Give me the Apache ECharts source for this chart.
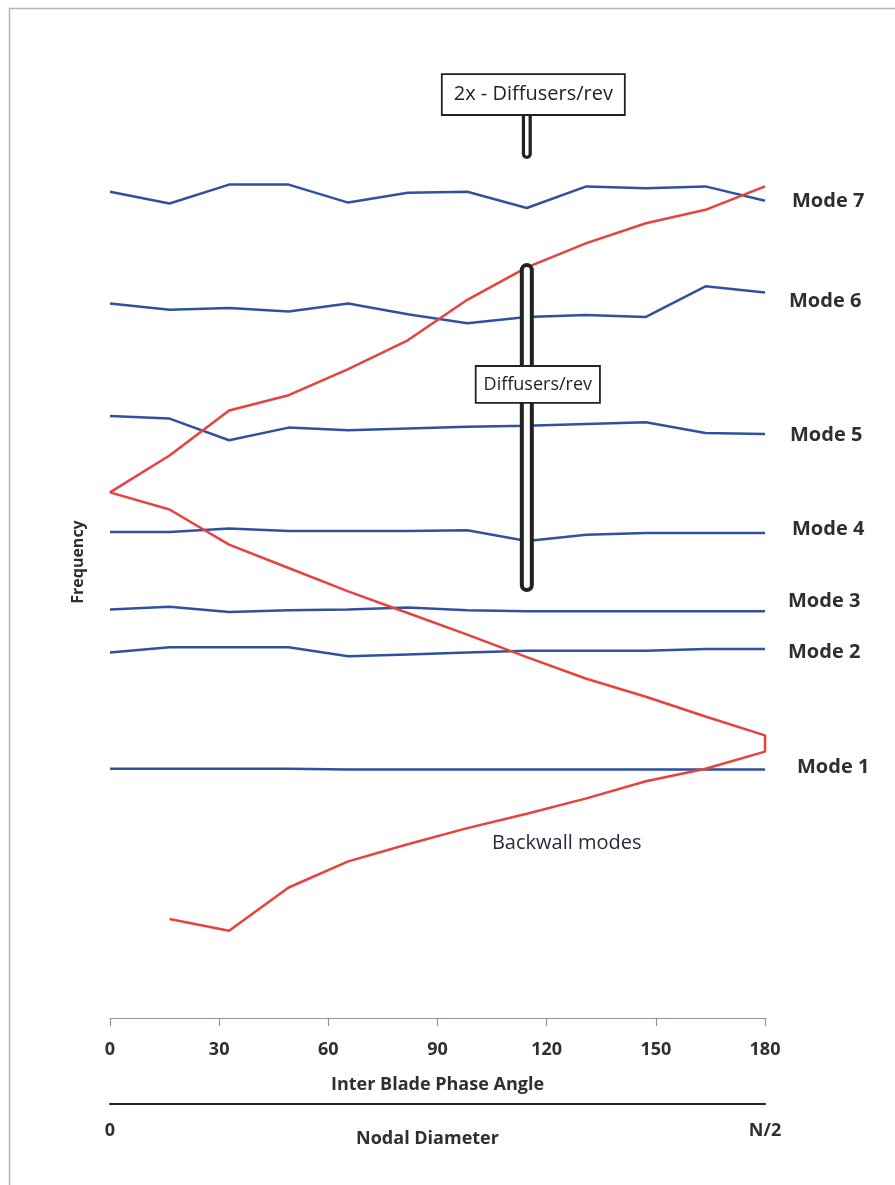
<!DOCTYPE html>
<html>
<head>
<meta charset="utf-8">
<script src="https://cdn.jsdelivr.net/npm/echarts@6/dist/echarts.min.js"></script>
<style>
html,body{margin:0;padding:0;background:#fff;}
#chart{width:895px;height:1185px;}
</style>
</head>
<body>
<div id="chart"></div>
<script>
// Nodal diameter index (0 .. N/2 = 11) and phase-angle ticks
const nodalDiameters = [0, 1, 2, 3, 4, 5, 6, 7, 8, 9, 10, 11];
const phaseTicks = [0, 30, 60, 90, 120, 150, 180];
const modeNames = ['Mode 1', 'Mode 2', 'Mode 3', 'Mode 4', 'Mode 5', 'Mode 6', 'Mode 7'];

// Blade mode frequencies (arbitrary units) at each nodal diameter
const mode1 = [27.7, 27.7, 27.7, 27.7, 27.6, 27.6, 27.6, 27.6, 27.6, 27.6, 27.6, 27.6];
const mode2 = [40.6, 41.2, 41.2, 41.2, 40.2, 40.4, 40.6, 40.8, 40.8, 40.8, 41.0, 41.0];
const mode3 = [45.4, 45.7, 45.1, 45.3, 45.4, 45.6, 45.3, 45.2, 45.2, 45.2, 45.2, 45.2];
const mode4 = [54.0, 54.0, 54.4, 54.1, 54.1, 54.1, 54.2, 53.0, 53.7, 53.9, 53.9, 53.9];
const mode5 = [66.9, 66.6, 64.2, 65.6, 65.3, 65.5, 65.7, 65.8, 66.0, 66.2, 65.0, 64.9];
const mode6 = [79.4, 78.7, 78.9, 78.5, 79.4, 78.2, 77.2, 77.9, 78.1, 77.9, 81.3, 80.6];
const mode7 = [91.8, 90.5, 92.6, 92.6, 90.6, 91.7, 91.8, 90.0, 92.4, 92.2, 92.4, 90.8];

// Backwall modes, in path order (nodal diameter, frequency)
const backwallND = [1, 2, 3, 4, 5, 6, 7, 8, 9, 10, 11,
                    11, 10, 9, 8, 7, 6, 5, 4, 3, 2, 1, 0,
                    1, 2, 3, 4, 5, 6, 7, 8, 9, 10, 11];
const backwallFreq = [11.0, 9.7, 14.5, 17.4, 19.3, 21.1, 22.7, 24.4, 26.3, 27.7, 29.6,
                      31.4, 33.5, 35.7, 37.7, 40.1, 42.6, 45.0, 47.4, 50.0, 52.6, 56.5, 58.4,
                      62.5, 67.5, 69.2, 72.1, 75.3, 79.8, 83.4, 86.1, 88.3, 89.8, 92.4];

// Excitation markers (nodal diameter, frequency span)
const diffuserND = 7;
const diffuserSpan = [48.1, 83.1];
const diffuser2xSpan = [96.0, 100.5];
const diffuserLabelFreq = 70.4;
const diffuser2xLabelFreq = 102.6;

const FONT = 'Open Sans';
const BLUE = '#3151a0';
const RED = '#e8413e';
const TXT = '#2f2f2f';

const modes = [mode1, mode2, mode3, mode4, mode5, mode6, mode7];
const labelOffsets = [[32, -2], [23, 3], [23, -10], [27, -4], [25, 1], [24, 9], [27, 0]];

const series = [];
modes.forEach((m, i) => {
  series.push({
    name: modeNames[i],
    type: 'line',
    xAxisIndex: 1,
    data: nodalDiameters.map((nd, j) => [nd, m[j]]),
    symbol: 'none',
    lineStyle: {color: BLUE, width: 2.5},
    endLabel: {
      show: true, formatter: '{a}', distance: 0, offset: labelOffsets[i],
      fontFamily: FONT, fontWeight: 'bold', fontSize: 20, color: TXT
    },
    z: 2
  });
});

series.push({
  name: 'Backwall',
  type: 'line',
  xAxisIndex: 1,
  data: backwallND.map((nd, j) => [nd, backwallFreq[j]]),
  symbol: 'none',
  lineStyle: {color: RED, width: 2.5},
  z: 3,
  markPoint: {
    symbol: 'circle', symbolSize: 0,
    itemStyle: {opacity: 1},
    label: {show: true, position: 'inside', formatter: 'Backwall modes',
      fontFamily: FONT, fontSize: 20, color: '#262b3a'},
    data: [{coord: [7.67, 19.4]}]
  }
});

function capsule(span, outer, inner) {
  const d = span.map(v => [diffuserND, v]);
  return [
    {type: 'line', xAxisIndex: 1, data: d, symbol: 'none', clip: false, z: 5,
     lineStyle: {color: '#222', width: outer, cap: 'round'}},
    {type: 'line', xAxisIndex: 1, data: d, symbol: 'none', clip: false, z: 6,
     lineStyle: {color: '#fff', width: inner, cap: 'round'}}
  ];
}
series.push(...capsule(diffuserSpan, 14, 6));
series.push(...capsule(diffuser2xSpan, 10, 3.5));

function boxLabel(freq, text, size, pad, dx) {
  return {
    type: 'scatter', xAxisIndex: 1, symbolSize: 0, z: 10, clip: false,
    itemStyle: {opacity: 1},
    data: [[diffuserND, freq]],
    label: {
      show: true, position: 'inside', formatter: text, offset: [dx, 0],
      fontFamily: FONT, fontSize: size, color: '#222',
      backgroundColor: '#fff', borderColor: '#222', borderWidth: 1.8,
      padding: pad, opacity: 1
    }
  };
}
series.push(boxLabel(diffuserLabelFreq, 'Diffusers/rev', 18, [9, 7, 8, 7], 11));
series.push(boxLabel(diffuser2xLabelFreq, '2x - Diffusers/rev', 20, [10, 11, 9, 11], 6.5));

const chart = echarts.init(document.getElementById('chart'));
chart.setOption({
  animation: false,
  backgroundColor: '#fff',
  grid: {left: 110, right: 130, top: 28, bottom: 167, containLabel: false},
  xAxis: [
    {
      type: 'value', min: phaseTicks[0], max: phaseTicks[phaseTicks.length - 1], interval: 30,
      position: 'bottom',
      name: 'Inter Blade Phase Angle', nameLocation: 'middle', nameGap: 58, nameMoveOverlap: false,
      nameTextStyle: {fontFamily: FONT, fontWeight: 'bold', fontSize: 18, color: TXT},
      axisLine: {show: true, lineStyle: {color: '#8a95a8', width: 1.2}},
      axisTick: {show: true, inside: false, length: 8, lineStyle: {color: '#8a95a8', width: 1.2}},
      axisLabel: {margin: 23, fontFamily: FONT, fontWeight: 'bold', fontSize: 18, color: TXT},
      splitLine: {show: false}
    },
    {
      type: 'value', min: 0, max: 11, interval: 11,
      position: 'bottom', offset: 86,
      name: 'Nodal Diameter', nameLocation: 'middle', nameGap: 26, nameMoveOverlap: false,
      nameTextStyle: {fontFamily: FONT, fontWeight: 'bold', fontSize: 18, color: TXT, padding: [0, 20, 0, 0]},
      axisLine: {show: true, lineStyle: {color: '#222', width: 2}},
      axisTick: {show: false},
      axisLabel: {margin: 18, fontFamily: FONT, fontWeight: 'bold', fontSize: 18, color: TXT,
        formatter: v => (v === 0 ? '0' : 'N/2')},
      splitLine: {show: false}
    }
  ],
  yAxis: {
    type: 'value', min: 0, max: 110,
    axisLine: {show: false}, axisTick: {show: false}, axisLabel: {show: false},
    splitLine: {show: false}
  },
  graphic: [
    {type: 'rect', shape: {x: 9.5, y: 8.5, width: 1000, height: 1300},
     style: {fill: 'none', stroke: '#aab6c8', lineWidth: 1.5}, silent: true},
    {type: 'text', x: 78, y: 562, rotation: Math.PI / 2,
     style: {text: 'Frequency', fontFamily: FONT, fontWeight: 'bold', fontSize: 16, fill: TXT,
       align: 'center', verticalAlign: 'middle'}}
  ],
  series: series
});
</script>
</body>
</html>
